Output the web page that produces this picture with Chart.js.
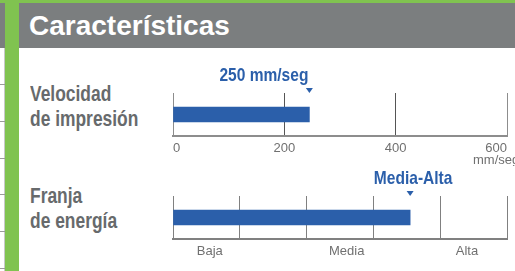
<!DOCTYPE html>
<html>
<head>
<meta charset="utf-8">
<script src="https://cdn.jsdelivr.net/npm/chart.js@4/dist/chart.umd.min.js"></script>
<style>
    html, body { margin: 0; padding: 0; }
    body {
        width: 515px; height: 271px; overflow: hidden; position: relative;
        background: #fff; font-family: "Liberation Sans", Arial, sans-serif;
    }
    .top-strip { position: absolute; left: 0; top: 0; width: 515px; height: 3px; background: #80c350; }
    .header { position: absolute; left: 0; top: 3px; width: 515px; height: 45px; background: #7b7e7f; }
    .green-bar { position: absolute; left: 5px; top: 0; width: 14px; height: 271px; background: #80c350; }
    .edge-v { position: absolute; left: 4px; top: 48px; width: 1px; height: 223px; background: #c8c8c8; }
    .edge-h { position: absolute; left: 0; width: 5px; height: 1px; background: #9a9a9a; }
    .title {
        position: absolute; left: 29px; top: 12px; line-height: 28px;
        font-size: 28px; font-weight: bold; color: #fff; white-space: nowrap;
    }
    .side-label {
        position: absolute; left: 30px; line-height: 25px;
        font-size: 21.5px; font-weight: bold; color: #676a6c; white-space: nowrap;
        transform: scaleX(0.81); transform-origin: left top;
    }
    canvas { position: absolute; }
</style>
</head>
<body>
<div class="top-strip"></div>
<div class="header"></div>
<div class="edge-v"></div>
<div class="edge-h" style="top:84px"></div>
<div class="edge-h" style="top:121px"></div>
<div class="edge-h" style="top:158px"></div>
<div class="edge-h" style="top:194px"></div>
<div class="edge-h" style="top:231px"></div>
<div class="edge-h" style="top:268px"></div>
<div class="green-bar"></div>
<div class="title">Características</div>
<div class="side-label" style="top:82px">Velocidad<br>de impresión</div>
<div class="side-label" style="top:184px">Franja<br>de energía</div>

<canvas id="speedChart" width="400" height="110" style="left:150px; top:60px"></canvas>
<canvas id="energyChart" width="400" height="110" style="left:150px; top:163px"></canvas>

<script>
// Velocidad de impresión
const speedCategory = ['Velocidad de impresión'];
const speedValues = [245];
const speedTicks = [0, 200, 400, 600];
const speedUnit = 'mm/seg';
const speedCallout = '250 mm/seg';

// Franja de energía
const energyCategory = ['Franja de energía'];
const energyValues = [3.55];
const energyGrid = [0, 1, 2, 3, 4, 5];
const energyLevels = ['Baja', 'Media', 'Alta'];
const energyLevelPos = [0.55, 2.6, 4.4];
const energyCallout = 'Media-Alta';

const BLUE = '#2b5faa';
const TICK_FONT = { family: '"Liberation Sans", Arial, sans-serif', size: 13, lineHeight: 0.9 };

// blue label + small triangle above the bar end
const calloutPlugin = {
    id: 'callout',
    afterDatasetsDraw(chart, args, opts) {
        const bar = chart.getDatasetMeta(0).data[0];
        if (!bar) return;
        const ctx = chart.ctx;
        const top = chart.chartArea.top;
        const x = bar.x;
        ctx.save();
        ctx.fillStyle = BLUE;
        ctx.beginPath();
        ctx.moveTo(x - 3.5, top - 5);
        ctx.lineTo(x + 3.5, top - 5);
        ctx.lineTo(x, top);
        ctx.closePath();
        ctx.fill();
        ctx.translate(x + (opts.dx || 0), top - 12);
        ctx.scale(0.84, 1);
        ctx.font = 'bold 18.5px "Liberation Sans", Arial, sans-serif';
        ctx.textAlign = opts.align || 'center';
        ctx.textBaseline = 'alphabetic';
        ctx.fillText(opts.text, 0, 0);
        ctx.restore();
    }
};

// last speed tick ("600 / mm/seg") is a centred block ending at the 600 line
const lastTickPlugin = {
    id: 'lastTick',
    beforeDraw(chart) {
        const scale = chart.scales.x;
        const items = scale.getLabelItems();
        const last = items[items.length - 1];
        if (!last || last._shifted) return;
        const ctx = chart.ctx;
        ctx.save();
        ctx.font = '13px "Liberation Sans", Arial, sans-serif';
        const half = ctx.measureText(String(speedTicks[speedTicks.length - 1])).width / 2;
        ctx.restore();
        last.options.textAlign = 'center';
        last.options.translation[0] -= half;
        last._shifted = true;
    }
};

function baseOptions() {
    return {
        indexAxis: 'y',
        responsive: false,
        animation: false,
        events: [],
        layout: { padding: { left: 23, right: 43, top: 33, bottom: 4 } },
        plugins: { legend: { display: false }, tooltip: { enabled: false } },
        scales: {
            y: { display: false }
        }
    };
}

const speedOpts = baseOptions();
speedOpts.plugins.callout = { text: speedCallout, align: 'right', dx: -1 };
speedOpts.scales.x = {
    type: 'linear',
    min: speedTicks[0],
    max: speedTicks[speedTicks.length - 1],
    afterBuildTicks: (scale) => { scale.ticks = speedTicks.map(v => ({ value: v })); },
    afterFit: (scale) => { scale.height = 30; },
    grid: {
        drawTicks: false,
        color: (c) => (c.index === 0 || c.index === speedTicks.length - 1) ? '#8d8d8d' : '#555555',
        lineWidth: 1
    },
    border: { color: '#8d8d8d', width: 2 },
    ticks: {
        align: 'inner',
        padding: 7,
        color: '#707070',
        font: TICK_FONT,
        maxRotation: 0,
        autoSkip: false,
        callback: (v) => v === speedTicks[speedTicks.length - 1] ? [String(v), speedUnit] : String(v)
    }
};

new Chart(document.getElementById('speedChart'), {
    type: 'bar',
    data: {
        labels: speedCategory,
        datasets: [{ data: speedValues, backgroundColor: BLUE, barThickness: 15 }]
    },
    options: speedOpts,
    plugins: [calloutPlugin, lastTickPlugin]
});

const energyOpts = baseOptions();
energyOpts.plugins.callout = { text: energyCallout, align: 'center', dx: 3 };
energyOpts.scales.x = {
    type: 'linear',
    min: energyGrid[0],
    max: energyGrid[energyGrid.length - 1],
    afterBuildTicks: (scale) => {
        scale.ticks = energyGrid.concat(energyLevelPos)
            .sort((a, b) => a - b)
            .map(v => ({ value: v }));
    },
    afterFit: (scale) => { scale.height = 30; },
    grid: {
        drawTicks: false,
        color: (c) => energyGrid.includes(c.tick.value) ? '#808080' : 'rgba(0,0,0,0)',
        lineWidth: 1
    },
    border: { color: '#808080', width: 2 },
    ticks: {
        padding: 7,
        color: '#707070',
        font: TICK_FONT,
        maxRotation: 0,
        autoSkip: false,
        callback: (v) => {
            const i = energyLevelPos.indexOf(v);
            return i >= 0 ? energyLevels[i] : '';
        }
    }
};

new Chart(document.getElementById('energyChart'), {
    type: 'bar',
    data: {
        labels: energyCategory,
        datasets: [{ data: energyValues, backgroundColor: BLUE, barThickness: 15 }]
    },
    options: energyOpts,
    plugins: [calloutPlugin]
});
</script>
</body>
</html>
